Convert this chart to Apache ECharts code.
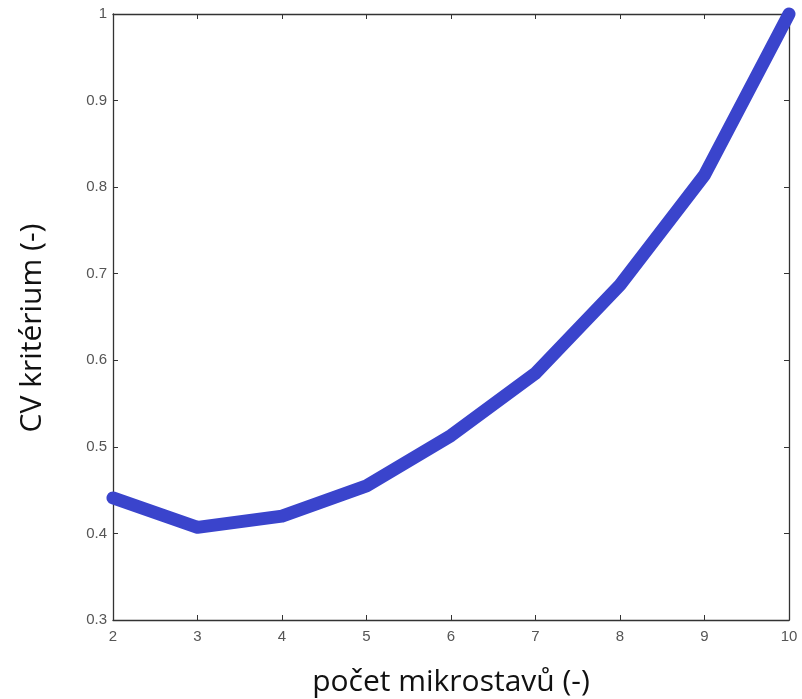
<!DOCTYPE html>
<html>
<head>
<meta charset="utf-8">
<script src="https://cdn.jsdelivr.net/npm/echarts@6/dist/echarts.min.js"></script>
<style>html,body{margin:0;padding:0;background:#fff}#c{width:802px;height:699px}</style>
</head>
<body>
<div id="c"></div>
<script>
const xValues = [2, 3, 4, 5, 6, 7, 8, 9, 10];
const cvValues = [0.441, 0.407, 0.420, 0.455, 0.513, 0.585, 0.687, 0.814, 1.0];
const xTitle = 'počet mikrostavů (-)';
const yTitle = 'CV kritérium (-)';

const chart = echarts.init(document.getElementById('c'));
const tickLabel = {color: '#555', fontFamily: 'Liberation Sans, Arial', fontSize: 15};
const line = {show: true, lineStyle: {color: '#333', width: 1.3}};
chart.setOption({
  animation: false,
  backgroundColor: '#fff',
  grid: {left: 113, right: 13, top: 14, bottom: 79, containLabel: false, outerBoundsMode: 'none'},
  xAxis: [{
    type: 'value', min: 2, max: 10, interval: 1,
    axisLine: line, axisTick: {show: true, inside: true, length: 5, lineStyle: {color: '#333'}},
    splitLine: {show: false},
    axisLabel: Object.assign({margin: 9}, tickLabel),
    name: xTitle, nameLocation: 'middle', nameGap: 47,
    nameTextStyle: {fontFamily: 'Open Sans, Noto Sans', fontSize: 30, color: '#111'}
  }, {
    type: 'value', min: 2, max: 10, interval: 1, position: 'top',
    axisLine: line, axisTick: {show: true, inside: true, length: 5, lineStyle: {color: '#333'}},
    splitLine: {show: false}, axisLabel: {show: false}
  }],
  yAxis: [{
    type: 'value', min: 0.3, max: 1, interval: 0.1,
    axisLine: line, axisTick: {show: true, inside: true, length: 5, lineStyle: {color: '#333'}},
    splitLine: {show: false},
    axisLabel: Object.assign({margin: 6, formatter: v => (Math.round(v*10)/10).toString()}, tickLabel),
    name: yTitle, nameLocation: 'middle', nameGap: 66, nameRotate: 90,
    nameTextStyle: {fontFamily: 'Open Sans, Noto Sans', fontSize: 30, color: '#111', padding: [0, 22, 0, 0]}
  }, {
    type: 'value', min: 0.3, max: 1, interval: 0.1, position: 'right',
    axisLine: line, axisTick: {show: true, inside: true, length: 5, lineStyle: {color: '#333'}},
    splitLine: {show: false}, axisLabel: {show: false}
  }],
  series: [{
    type: 'line',
    data: xValues.map((x, i) => [x, cvValues[i]]),
    showSymbol: false,
    lineStyle: {color: '#3a44cc', width: 13, cap: 'round', join: 'round'},
    clip: false
  }]
});
</script>
</body>
</html>
